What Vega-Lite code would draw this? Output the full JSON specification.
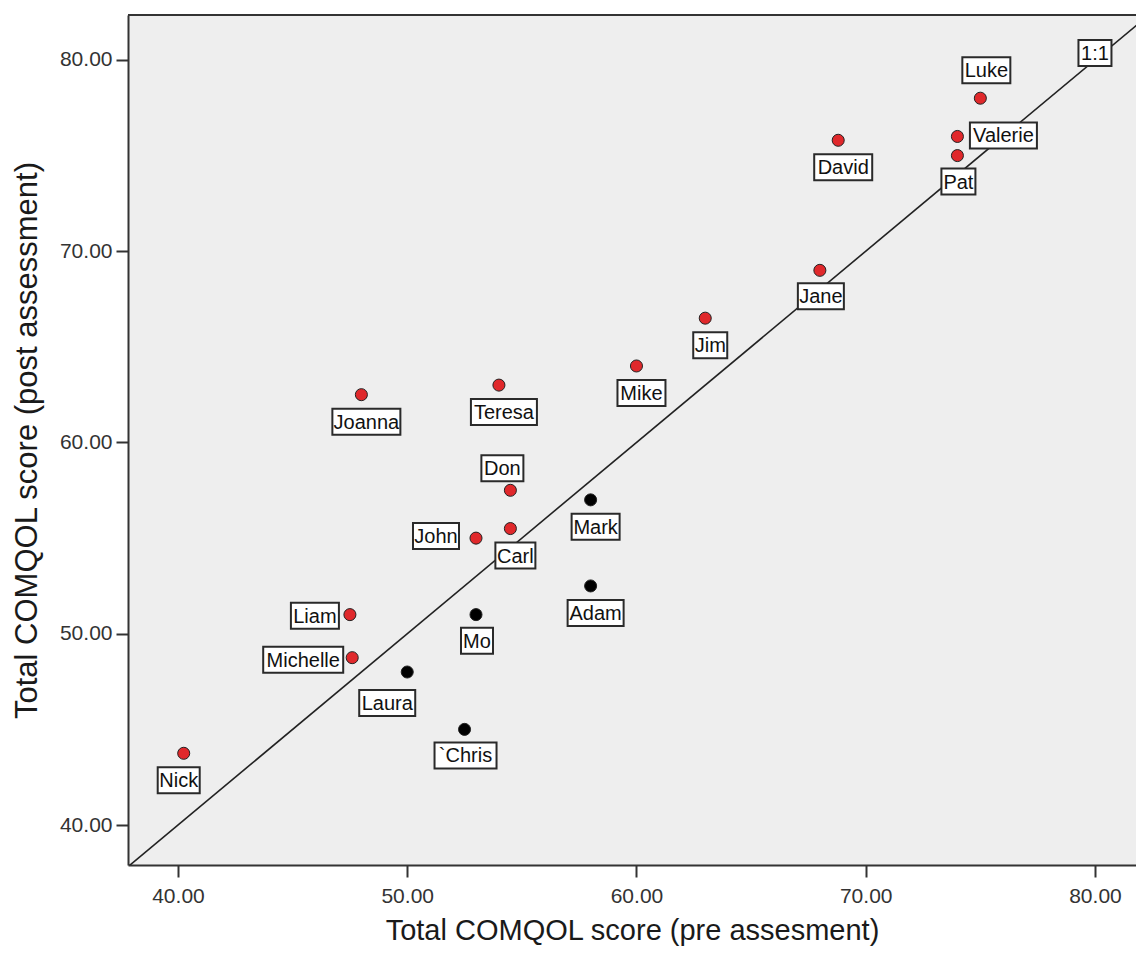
{
  "$schema": "https://vega.github.io/schema/vega-lite/v6.json",
  "width": 1008,
  "height": 850,
  "autosize": {"type": "none"},
  "padding": {"left": 128, "top": 15, "right": 0, "bottom": 89},
  "background": "#ffffff",
  "config": {
    "view": {"stroke": null, "fill": "#eeeeee"},
    "font": "Liberation Sans",
    "axis": {
      "grid": false,
      "domainColor": "#333333",
      "domainWidth": 2,
      "tickColor": "#333333",
      "tickWidth": 2,
      "tickSize": 12,
      "labelFont": "Liberation Sans",
      "labelFontSize": 21,
      "labelColor": "#333333",
      "labelFlush": false,
      "titleFont": "Liberation Sans",
      "titleFontWeight": "normal",
      "titleColor": "#1a1a1a"
    },
    "axisX": {"labelPadding": 8, "titlePadding": 10, "titleFontSize": 29},
    "axisY": {"labelPadding": 4, "titlePadding": 16, "titleFontSize": 31}
  },
  "datasets": {
    "scores": [
      {"name": "Nick", "pre": 40.25, "post": 43.75},
      {"name": "Liam", "pre": 47.5, "post": 51},
      {"name": "Michelle", "pre": 47.6, "post": 48.75},
      {"name": "Laura", "pre": 50, "post": 48},
      {"name": "`Chris", "pre": 52.5, "post": 45},
      {"name": "Mo", "pre": 53, "post": 51},
      {"name": "John", "pre": 53, "post": 55},
      {"name": "Carl", "pre": 54.5, "post": 55.5},
      {"name": "Don", "pre": 54.5, "post": 57.5},
      {"name": "Teresa", "pre": 54, "post": 63},
      {"name": "Joanna", "pre": 48, "post": 62.5},
      {"name": "Mark", "pre": 58, "post": 57},
      {"name": "Adam", "pre": 58, "post": 52.5},
      {"name": "Mike", "pre": 60, "post": 64},
      {"name": "Jim", "pre": 63, "post": 66.5},
      {"name": "Jane", "pre": 68, "post": 69},
      {"name": "David", "pre": 68.8, "post": 75.8},
      {"name": "Valerie", "pre": 74, "post": 76},
      {"name": "Pat", "pre": 74, "post": 75},
      {"name": "Luke", "pre": 75, "post": 78}
    ],
    "identity": [{"v": 37}, {"v": 83}]
  },
  "layer": [
    {
      "data": {"name": "identity"},
      "mark": {"type": "line", "color": "#222222", "strokeWidth": 1.6, "clip": true},
      "encoding": {
        "x": {"field": "v", "type": "quantitative", "title": "Total COMQOL score (pre assesment)"},
        "y": {"field": "v", "type": "quantitative", "title": "Total COMQOL score (post assessment)"}
      }
    },
    {
      "data": {"values": [{}]},
      "mark": {"type": "rule", "color": "#333333", "strokeWidth": 2},
      "encoding": {
        "x": {"datum": 37.82, "type": "quantitative", "title": "Total COMQOL score (pre assesment)"},
        "x2": {"datum": 81.79},
        "y": {"datum": 82.35, "type": "quantitative", "title": "Total COMQOL score (post assessment)"}
      }
    },
    {
      "data": {"name": "scores"},
      "encoding": {
        "x": {
          "field": "pre",
          "type": "quantitative",
          "title": "Total COMQOL score (pre assesment)",
          "scale": {"domain": [37.82, 81.79], "nice": false, "zero": false},
          "axis": {"values": [40, 50, 60, 70, 80], "format": ".2f"}
        },
        "y": {
          "field": "post",
          "type": "quantitative",
          "title": "Total COMQOL score (post assessment)",
          "scale": {"domain": [37.91, 82.35], "nice": false, "zero": false},
          "axis": {"values": [40, 50, 60, 70, 80], "format": ".2f"}
        }
      },
      "layer": [
        {
          "mark": {"type": "point", "shape": "circle", "filled": true, "size": 145, "opacity": 1, "stroke": "#222222", "strokeWidth": 1},
          "encoding": {
            "color": {"condition": {"test": "datum.post > datum.pre", "value": "#e0282b"}, "value": "#000000"}
          }
        },
        {
          "encoding": {
            "shape": {
              "field": "name",
              "type": "nominal",
              "legend": null,
              "scale": {
                "domain": ["Nick", "Liam", "Michelle", "Laura", "`Chris", "Mo", "John", "Carl", "Don", "Teresa", "Joanna", "Mark", "Adam", "Mike", "Jim", "Jane", "David", "Valerie", "Pat", "Luke"],
                "range": [
                  "M-21,-13H21V13H-21Z",
                  "M-24,-13H24V13H-24Z",
                  "M-40,-13H40V13H-40Z",
                  "M-28,-13H28V13H-28Z",
                  "M-31,-13H31V13H-31Z",
                  "M-16,-13H16V13H-16Z",
                  "M-23,-13H23V13H-23Z",
                  "M-20,-13H20V13H-20Z",
                  "M-21,-13H21V13H-21Z",
                  "M-33,-13H33V13H-33Z",
                  "M-34,-13H34V13H-34Z",
                  "M-24,-13H24V13H-24Z",
                  "M-28,-13H28V13H-28Z",
                  "M-24,-13H24V13H-24Z",
                  "M-17,-13H17V13H-17Z",
                  "M-23,-13H23V13H-23Z",
                  "M-29,-13H29V13H-29Z",
                  "M-33.5,-13H33.5V13H-33.5Z",
                  "M-17,-13H17V13H-17Z",
                  "M-24,-13H24V13H-24Z"
                ]
              }
            }
          },
          "layer": [
            {"transform": [{"filter": {"field": "name", "oneOf": ["Joanna", "Teresa", "Carl", "Mark", "Adam", "Mike", "Jim", "David"]}}],
             "mark": {"type": "point", "filled": true, "fill": "#ffffff", "stroke": "#2a2a2a", "strokeWidth": 2, "size": 4, "opacity": 1, "xOffset": 5, "yOffset": 27}},
            {"transform": [{"filter": {"field": "name", "oneOf": ["Mo", "`Chris", "Jane", "Pat"]}}],
             "mark": {"type": "point", "filled": true, "fill": "#ffffff", "stroke": "#2a2a2a", "strokeWidth": 2, "size": 4, "opacity": 1, "xOffset": 1, "yOffset": 26}},
            {"transform": [{"filter": {"field": "name", "equal": "Nick"}}],
             "mark": {"type": "point", "filled": true, "fill": "#ffffff", "stroke": "#2a2a2a", "strokeWidth": 2, "size": 4, "opacity": 1, "xOffset": -5, "yOffset": 27}},
            {"transform": [{"filter": {"field": "name", "equal": "Laura"}}],
             "mark": {"type": "point", "filled": true, "fill": "#ffffff", "stroke": "#2a2a2a", "strokeWidth": 2, "size": 4, "opacity": 1, "xOffset": -20, "yOffset": 31}},
            {"transform": [{"filter": {"field": "name", "equal": "Don"}}],
             "mark": {"type": "point", "filled": true, "fill": "#ffffff", "stroke": "#2a2a2a", "strokeWidth": 2, "size": 4, "opacity": 1, "xOffset": -8, "yOffset": -22}},
            {"transform": [{"filter": {"field": "name", "equal": "Luke"}}],
             "mark": {"type": "point", "filled": true, "fill": "#ffffff", "stroke": "#2a2a2a", "strokeWidth": 2, "size": 4, "opacity": 1, "xOffset": 6, "yOffset": -28}},
            {"transform": [{"filter": {"field": "name", "equal": "Liam"}}],
             "mark": {"type": "point", "filled": true, "fill": "#ffffff", "stroke": "#2a2a2a", "strokeWidth": 2, "size": 4, "opacity": 1, "xOffset": -35, "yOffset": 1}},
            {"transform": [{"filter": {"field": "name", "equal": "Michelle"}}],
             "mark": {"type": "point", "filled": true, "fill": "#ffffff", "stroke": "#2a2a2a", "strokeWidth": 2, "size": 4, "opacity": 1, "xOffset": -49, "yOffset": 2}},
            {"transform": [{"filter": {"field": "name", "equal": "John"}}],
             "mark": {"type": "point", "filled": true, "fill": "#ffffff", "stroke": "#2a2a2a", "strokeWidth": 2, "size": 4, "opacity": 1, "xOffset": -40, "yOffset": -2}},
            {"transform": [{"filter": {"field": "name", "equal": "Valerie"}}],
             "mark": {"type": "point", "filled": true, "fill": "#ffffff", "stroke": "#2a2a2a", "strokeWidth": 2, "size": 4, "opacity": 1, "xOffset": 46, "yOffset": -1}}
          ]
        },
        {
          "encoding": {"text": {"field": "name", "type": "nominal"}},
          "layer": [
            {"transform": [{"filter": {"field": "name", "oneOf": ["Joanna", "Teresa", "Carl", "Mark", "Adam", "Mike", "Jim", "David"]}}],
             "mark": {"type": "text", "font": "Liberation Sans", "fontSize": 20, "color": "#111111", "align": "center", "baseline": "middle", "dx": 5, "dy": 28}},
            {"transform": [{"filter": {"field": "name", "oneOf": ["Mo", "`Chris", "Jane", "Pat"]}}],
             "mark": {"type": "text", "font": "Liberation Sans", "fontSize": 20, "color": "#111111", "align": "center", "baseline": "middle", "dx": 1, "dy": 27}},
            {"transform": [{"filter": {"field": "name", "equal": "Nick"}}],
             "mark": {"type": "text", "font": "Liberation Sans", "fontSize": 20, "color": "#111111", "align": "center", "baseline": "middle", "dx": -5, "dy": 28}},
            {"transform": [{"filter": {"field": "name", "equal": "Laura"}}],
             "mark": {"type": "text", "font": "Liberation Sans", "fontSize": 20, "color": "#111111", "align": "center", "baseline": "middle", "dx": -20, "dy": 32}},
            {"transform": [{"filter": {"field": "name", "equal": "Don"}}],
             "mark": {"type": "text", "font": "Liberation Sans", "fontSize": 20, "color": "#111111", "align": "center", "baseline": "middle", "dx": -8, "dy": -21}},
            {"transform": [{"filter": {"field": "name", "equal": "Luke"}}],
             "mark": {"type": "text", "font": "Liberation Sans", "fontSize": 20, "color": "#111111", "align": "center", "baseline": "middle", "dx": 6, "dy": -27}},
            {"transform": [{"filter": {"field": "name", "equal": "Liam"}}],
             "mark": {"type": "text", "font": "Liberation Sans", "fontSize": 20, "color": "#111111", "align": "center", "baseline": "middle", "dx": -35, "dy": 2}},
            {"transform": [{"filter": {"field": "name", "equal": "Michelle"}}],
             "mark": {"type": "text", "font": "Liberation Sans", "fontSize": 20, "color": "#111111", "align": "center", "baseline": "middle", "dx": -49, "dy": 3}},
            {"transform": [{"filter": {"field": "name", "equal": "John"}}],
             "mark": {"type": "text", "font": "Liberation Sans", "fontSize": 20, "color": "#111111", "align": "center", "baseline": "middle", "dx": -40, "dy": -1}},
            {"transform": [{"filter": {"field": "name", "equal": "Valerie"}}],
             "mark": {"type": "text", "font": "Liberation Sans", "fontSize": 20, "color": "#111111", "align": "center", "baseline": "middle", "dx": 46, "dy": 0}}
          ]
        }
      ]
    },
    {
      "data": {"values": [{"label": "1:1"}]},
      "encoding": {
        "x": {"datum": 80, "type": "quantitative", "title": "Total COMQOL score (pre assesment)"},
        "y": {"datum": 80, "type": "quantitative", "title": "Total COMQOL score (post assessment)"}
      },
      "layer": [
        {"mark": {"type": "point", "shape": "M-16.5,-13H16.5V13H-16.5Z", "filled": true, "fill": "#ffffff", "stroke": "#2a2a2a", "strokeWidth": 2, "size": 4, "opacity": 1, "yOffset": -7}},
        {"mark": {"type": "text", "font": "Liberation Sans", "fontSize": 20, "color": "#111111", "align": "center", "baseline": "middle", "dy": -6},
         "encoding": {"text": {"field": "label", "type": "nominal"}}}
      ]
    }
  ]
}
